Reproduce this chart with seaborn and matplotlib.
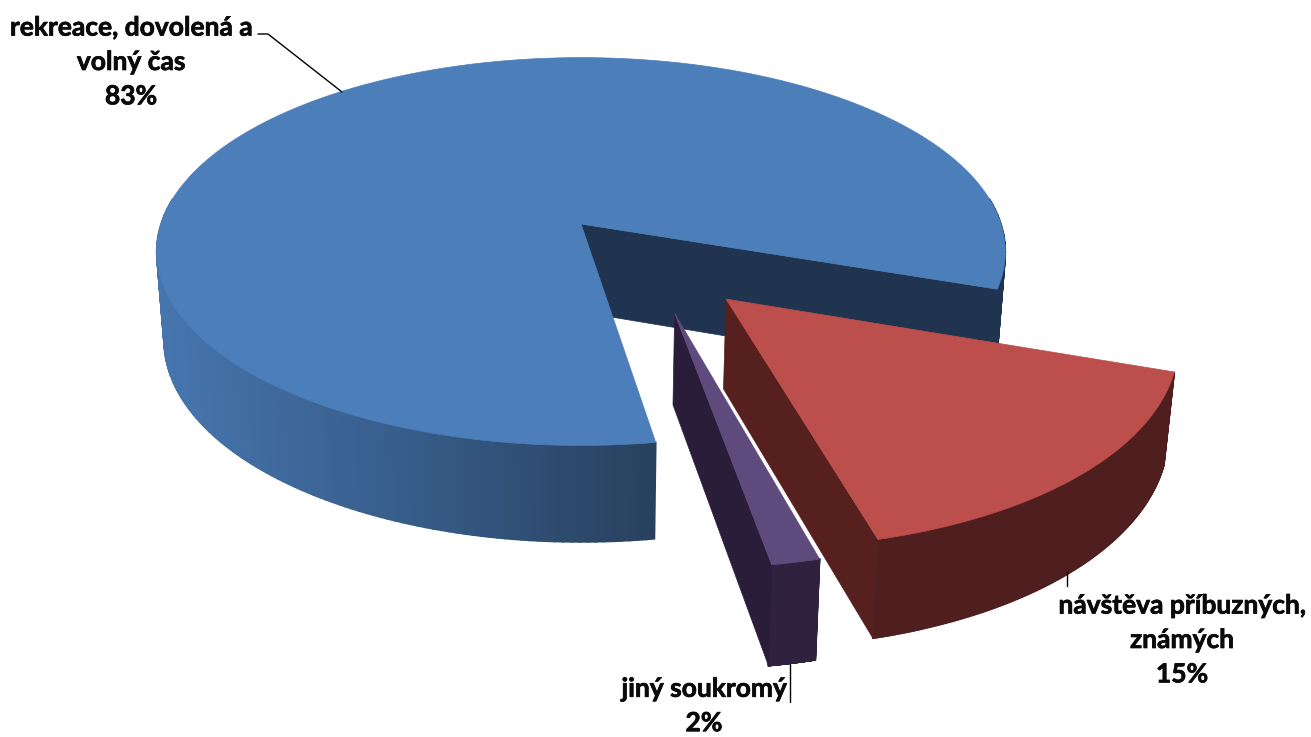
import numpy as np
import matplotlib
matplotlib.use("Agg")
import matplotlib.pyplot as plt
import matplotlib.patheffects as pe
import seaborn as sns

# data
categories = ["rekreace, dovolená a\nvolný čas", "návštěva příbuzných,\nznámých", "jiný soukromý"]
percent_labels = ["83%", "15%", "2%"]
# slice sizes as they are drawn in the picture
shares = [82.75, 15.75, 1.5]

sns.set_theme(style="white")
plt.rcParams["font.family"] = ["Lato", "DejaVu Sans"]

# look of the 3d pie
top_colors = ["#4c7eba", "#bc4f4b", "#5f4a7e"]
wall_colors = ["#20334f", "#55201e", "#2a1d3a"]
side_ramps = [["#4675ae", "#375d8a", "#29415f"],
              ["#4f1f20", "#4f1f20"],
              ["#30223f", "#30223f"]]
offsets = [(0, 0), (0.327, 0.374), (0.209, 0.441)]
depths = [88, 87, 88]
start_angle = 81.2
cx, cy, A, B, p = 581, 224, 420, 190, 0.142

label_pos = [(131, 62), (1182, 640), (704, 706)]
leaders = [[(258, 34), (268, 34), (342, 92)],
           [(1067, 572), (1067, 586)],
           [(790, 664), (790, 702)]]


def project(x, y, d=0.0):
    w = 1 - p * y
    sx = cx + A * x / w * (1 - 0.018 * d / 90)
    sy = cy + B * y / w + d / w ** 0.6
    return sx, sy


fig = plt.figure(figsize=(13.11, 7.37), dpi=100)
ax = fig.add_axes([0, 0, 1, 1])
ax.set_xlim(0, 1311)
ax.set_ylim(737, 0)
ax.axis("off")

# slice angles come from the shares
spans = np.array(shares) / sum(shares) * 360
starts = start_angle + np.concatenate([[0], np.cumsum(spans)[:-1]])

# back to front: blue, purple, red
for i in [0, 2, 1]:
    a0, a1 = starts[i], starts[i] + spans[i]
    ex, ey = offsets[i]
    d = depths[i]
    th = np.radians(np.linspace(a0, a1, 300))
    rx, ry = ex + np.cos(th), ey + np.sin(th)

    # outer side, split up so it can carry a ramp
    front = np.sin(th) > -0.15
    sx0, sy0 = project(rx, ry)
    sx1, sy1 = project(rx, ry, d)
    ramp = sns.blend_palette(side_ramps[i], n_colors=100)
    lo = sx0[front].min()
    hi = sx0[0] if i == 0 else sx0[front].max()
    for j in range(len(th) - 1):
        if not (front[j] and front[j + 1]):
            continue
        t = (sx0[j] - lo) / (hi - lo)
        c = ramp[int(np.clip(t, 0, 0.999) * 100)]
        if i == 0 and sx0[j] > 800:
            c = wall_colors[0]
        ax.fill([sx0[j], sx0[j + 1], sx1[j + 1], sx1[j]],
                [sy0[j], sy0[j + 1], sy1[j + 1], sy1[j]],
                color=c, lw=1.2, zorder=2)

    # inner wall that faces the viewer
    xs = [ex, rx[-1], rx[-1], ex]
    ys = [ey, ry[-1], ry[-1], ey]
    zs = [0, 0, d, d]
    pts = [project(a, b, c) for a, b, c in zip(xs, ys, zs)]
    ax.fill(*zip(*pts), color=wall_colors[i], lw=0.5, zorder=2)

    # top face
    tx, ty = project(np.r_[ex, rx], np.r_[ey, ry])
    ax.fill(tx, ty, color=top_colors[i], lw=0.5, zorder=2)

for pts in leaders:
    ax.plot(*zip(*pts), color="black", lw=1, zorder=3)

for name, pct, pos in zip(categories, percent_labels, label_pos):
    ax.text(pos[0], pos[1], f"{name}\n{pct}", ha="center", va="center",
            fontsize=19, fontweight="bold", color="#0a0a0a", linespacing=1.52, zorder=4,
            path_effects=[pe.withStroke(linewidth=0.5, foreground="#0a0a0a")])

fig.savefig("out.png", dpi=100)
